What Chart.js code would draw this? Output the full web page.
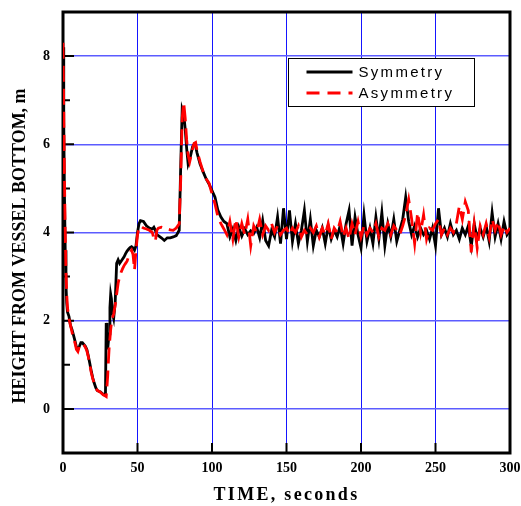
<!DOCTYPE html>
<html>
<head>
<meta charset="utf-8">
<script src="https://cdn.jsdelivr.net/npm/chart.js@4.4.1/dist/chart.umd.min.js"></script>
<style>
  body { margin: 0; background: #fff; }
</style>
</head>
<body>
<canvas id="chart" width="521" height="506"></canvas>
<script>
// 데이터
const seconds = [
  0, 0.5, 1, 1.5, 2, 2.5, 3, 4, 5, 6, 7, 8, 9, 10, 11, 12, 13, 14, 15, 16, 17, 18, 19, 20, 21, 22, 23, 24, 25, 26, 27, 28,
  28.5, 29, 29.5, 30, 30.5, 31, 31.5, 32, 32.5, 33, 34, 35, 36, 37, 38, 39, 40, 41, 42, 43, 44, 45, 46, 47, 48, 49, 50, 51, 52,
  54, 56, 58, 60, 61, 62, 63, 64, 66, 68, 70, 72, 74, 76, 78,
  79, 80, 81, 82, 83, 84, 85, 86, 87, 88, 89, 90, 92, 94, 96, 98, 100, 102, 104, 106, 108, 110,
  112, 114, 116, 118, 120, 122, 124, 126, 128, 130,
  132, 134, 136, 138, 140, 142, 144, 146, 148, 150,
  152, 154, 156, 158, 160, 162, 164, 166, 168, 170,
  172, 174, 176, 178, 180, 182, 184, 186, 188, 190,
  192, 194, 196, 198, 200, 202, 204, 206, 208, 210,
  212, 214, 216, 218, 220, 222, 224, 226, 228, 230,
  232, 234, 236, 238, 240, 242, 244, 246, 248, 250,
  252, 254, 256, 258, 260, 262, 264, 266, 268, 270,
  272, 274, 276, 278, 280, 282, 284, 286, 288, 290,
  292, 294, 296, 298, 300
];

const symmetry = [
  8.2, 6.5, 4.8, 3.6, 2.8, 2.4, 2.2, 2.1, 1.9, 1.8, 1.68, 1.55, 1.4, 1.35, 1.42, 1.5, 1.5, 1.46, 1.42, 1.35, 1.2, 1.03, 0.85, 0.7, 0.58, 0.48, 0.42, 0.4, 0.39, 0.36, 0.33, 0.31,
  0.35, 1.95, 1.6, 1.35, 1.55, 1.7, 2.3, 2.6, 2.5, 2.2, 2.05, 2.4, 3.3, 3.38, 3.3, 3.35, 3.4, 3.45, 3.52, 3.58, 3.62, 3.66, 3.68, 3.65, 3.6, 3.7, 4.0, 4.2, 4.27,
  4.25, 4.15, 4.1, 4.08, 4.12, 4.05, 3.95, 3.93, 3.88, 3.82, 3.88, 3.88, 3.9, 3.93, 4.05,
  5.5, 6.8, 6.7, 6.35, 5.9, 5.55, 5.65, 5.8, 5.95, 6.0, 5.95, 5.8, 5.55, 5.38, 5.22, 5.1, 4.95, 4.8, 4.5, 4.35, 4.25, 4.2,
  3.9, 4.08, 3.82, 4.12, 3.92, 4.08, 3.95, 4.04, 3.98, 4.12,
  3.88, 4.27, 3.82, 3.7, 4.05, 3.9, 4.35, 3.75, 4.55, 3.85,
  4.5, 3.8, 4.2, 3.75, 4.05, 4.5, 3.8, 4.3, 3.7, 4.05,
  3.9, 4.1, 3.75, 4.15, 3.85, 4.05, 3.9, 4.15, 3.75, 4.2,
  4.5, 3.7, 4.35, 3.95, 3.65, 4.4, 3.8, 4.1, 3.75, 4.35,
  3.85, 4.45, 3.7, 4.2, 3.9, 4.3, 3.8, 4.05, 4.3, 4.8,
  4.25, 3.95, 4.15, 3.9, 4.1, 3.95, 4.05, 3.85, 4.1, 3.7,
  4.55, 3.95, 4.1, 3.9, 4.2, 3.95, 4.05, 3.85, 4.1, 3.95,
  4.15, 3.7, 4.2, 3.85, 4.1, 3.9, 4.15, 3.8, 4.45, 3.9,
  4.2, 3.85, 4.25, 3.95, 4.05
];

const asymmetry = [
  8.3, 6.8, 5.2, 4.0, 3.1, 2.6, 2.3, 2.05, 1.9, 1.75, 1.6, 1.5, 1.35, 1.3, 1.42, 1.48, 1.48, 1.45, 1.4, 1.32, 1.18, 1.0, 0.82, 0.68, 0.57, 0.47, 0.42, 0.4, 0.38, 0.35, 0.32, 0.3,
  0.29, 0.28, 0.5, 0.75, 1.1, 1.4, 1.6, 1.8, 1.95, 2.05, 2.15, 2.35, 2.6, 2.85, 3.0, 3.1, 3.18, 3.25, 3.3, 3.35, 3.45, 3.55, 3.6, 3.5, 3.15, 3.6, 3.95, 4.1, 4.15,
  4.1, 4.08, 4.05, 4.0, 3.85, 3.8, 4.05, 4.1, 4.12, 4.1, 4.08, 4.06, 4.05, 4.1, 4.2,
  5.2, 6.6, 6.95, 6.6, 6.1, 5.75, 5.6, 5.75, 5.9, 6.02, 6.04, 5.85, 5.6, 5.38, 5.22, 5.12, 4.88, 4.65, 4.35, 4.2, 4.08, 3.95,
  4.25, 3.85, 4.3, 3.9, 4.2, 3.95, 4.3, 3.7, 4.15, 4.0,
  4.3, 3.95, 4.15, 4.05, 4.2, 4.0, 4.15, 3.95, 4.05, 4.1,
  3.95, 4.1, 4.0, 4.15, 3.9, 4.05, 3.95, 4.1, 4.0, 4.15,
  3.9, 4.1, 3.95, 4.2, 3.85, 4.1, 4.0, 4.25, 3.9, 4.1,
  3.85, 4.2, 3.95, 4.25, 3.9, 4.15, 3.95, 4.1, 4.0, 4.2,
  3.9, 4.1, 4.05, 4.2, 3.95, 4.15, 4.05, 3.95, 4.15, 4.4,
  4.75, 4.3, 3.75, 4.45, 4.0, 4.4, 3.85, 4.1, 4.05, 4.2,
  4.3, 3.95, 4.1, 3.95, 4.1, 4.0, 4.2, 4.6, 4.3, 4.7,
  4.5, 3.55, 4.2, 3.65, 4.15, 3.95, 4.2, 3.9, 4.3, 4.05,
  4.25, 3.95, 4.15, 4.0, 4.1
];

const xTicks = [0, 50, 100, 150, 200, 250, 300];
const yTicks = [0, 2, 4, 6, 8];
const yMinorTicks = [1, 3, 5, 7];

const serif = '"Liberation Serif", "Times New Roman", serif';
const sans = '"Liberation Sans", Arial, sans-serif';

// 테두리, 안쪽 눈금, 범례, 축 제목
const framePlugin = {
  id: 'frame',
  beforeDatasetsDraw(chart) {
    const ctx = chart.ctx;
    const a = chart.chartArea;
    const x = chart.scales.x;
    const y = chart.scales.y;
    ctx.save();
    ctx.strokeStyle = '#000';
    ctx.lineWidth = 2;
    ctx.beginPath();
    yTicks.forEach(v => {
      const py = y.getPixelForValue(v);
      ctx.moveTo(a.left, py); ctx.lineTo(a.left + 11, py);
    });
    yMinorTicks.forEach(v => {
      const py = y.getPixelForValue(v);
      ctx.moveTo(a.left, py); ctx.lineTo(a.left + 7, py);
    });
    xTicks.forEach(v => {
      const px = x.getPixelForValue(v);
      ctx.moveTo(px, a.bottom); ctx.lineTo(px, a.bottom - 10);
    });
    ctx.stroke();
    ctx.lineWidth = 3;
    ctx.strokeRect(a.left, a.top, a.right - a.left, a.bottom - a.top);
    ctx.restore();
  },
  afterDraw(chart) {
    const ctx = chart.ctx;
    const a = chart.chartArea;
    ctx.save();

    // 범례
    const bx = a.left + 225.5, by = a.top + 46.5;
    ctx.fillStyle = '#fff';
    ctx.fillRect(bx, by, 186, 48);
    ctx.strokeStyle = '#000';
    ctx.lineWidth = 1;
    ctx.strokeRect(bx, by, 186, 48);

    ctx.lineWidth = 2.8;
    ctx.beginPath();
    ctx.moveTo(bx + 18, by + 13.5); ctx.lineTo(bx + 64, by + 13.5);
    ctx.stroke();
    ctx.strokeStyle = '#ff0000';
    ctx.setLineDash([13, 8]);
    ctx.beginPath();
    ctx.moveTo(bx + 18, by + 34.5); ctx.lineTo(bx + 64, by + 34.5);
    ctx.stroke();
    ctx.setLineDash([]);

    ctx.fillStyle = '#000';
    ctx.font = '15px ' + sans;
    ctx.letterSpacing = '2.3px';
    ctx.textBaseline = 'middle';
    ctx.textAlign = 'left';
    ctx.fillText('Symmetry', bx + 70, by + 14);
    ctx.fillText('Asymmetry', bx + 70, by + 35);

    // x축 제목
    ctx.font = 'bold 18px ' + serif;
    ctx.letterSpacing = '2.3px';
    ctx.textAlign = 'center';
    ctx.fillText('TIME, seconds', (a.left + a.right) / 2, 495);

    // y축 제목
    ctx.letterSpacing = '0px';
    ctx.translate(20, 246);
    ctx.rotate(-Math.PI / 2);
    ctx.fillText('HEIGHT FROM VESSEL BOTTOM, m', 0, 0);
    ctx.restore();
  }
};

const ctx = document.getElementById('chart').getContext('2d');
new Chart(ctx, {
  type: 'line',
  data: {
    datasets: [
      {
        label: 'Symmetry',
        data: seconds.map((t, i) => ({ x: t, y: symmetry[i] })),
        borderColor: '#000',
        borderWidth: 2.8,
        pointRadius: 0,
        tension: 0,
        order: 2
      },
      {
        label: 'Asymmetry',
        data: seconds.map((t, i) => ({ x: t, y: asymmetry[i] })),
        borderColor: '#ff0000',
        borderWidth: 2.8,
        borderDash: [16, 7],
        pointRadius: 0,
        tension: 0,
        order: 1
      }
    ]
  },
  options: {
    responsive: false,
    animation: false,
    layout: { padding: { top: 12, right: 11, left: 0, bottom: 0 } },
    plugins: {
      legend: { display: false },
      tooltip: { enabled: false }
    },
    scales: {
      x: {
        type: 'linear',
        min: 0,
        max: 300,
        afterBuildTicks: scale => { scale.ticks = xTicks.map(v => ({ value: v })); },
        afterFit: scale => {
          scale.height = 53;
          scale.paddingLeft = 0;
          scale.paddingRight = 0;
        },
        ticks: {
          color: '#000',
          padding: 7,
          maxRotation: 0,
          font: { family: serif, size: 14, weight: 'bold' }
        },
        grid: { color: '#1515ff', lineWidth: 1, drawTicks: false },
        border: { display: false }
      },
      y: {
        type: 'linear',
        min: -1,
        max: 9,
        afterBuildTicks: scale => { scale.ticks = yTicks.map(v => ({ value: v })); },
        afterFit: scale => {
          scale.width = 63;
          scale.paddingTop = 0;
          scale.paddingBottom = 0;
        },
        ticks: {
          color: '#000',
          padding: 13,
          font: { family: serif, size: 14, weight: 'bold' }
        },
        grid: { color: '#5c5cff', lineWidth: 1.4, drawTicks: false },
        border: { display: false }
      }
    }
  },
  plugins: [framePlugin]
});
</script>
</body>
</html>
